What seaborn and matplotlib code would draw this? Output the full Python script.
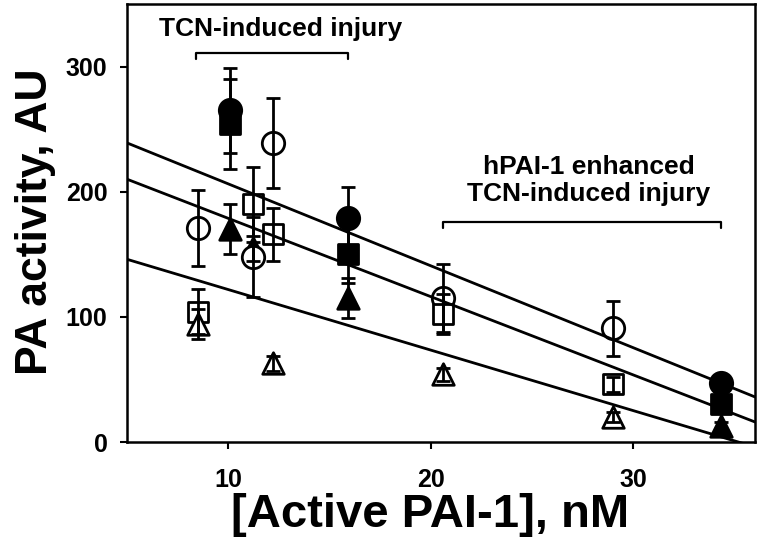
import matplotlib

matplotlib.use("Agg")
import matplotlib.pyplot as plt
import pandas as pd
import seaborn as sns

# [Active PAI-1] (nM), PA activity (AU) and error for each group
fc_x = [10.1, 15.9, 34.3]
fc_y = [265, 179, 47]
fc_err = [34, 25, 3]

fs_x = [10.1, 15.9, 34.3]
fs_y = [254, 150, 30]
fs_err = [36, 23, 3]

ft_x = [10.1, 11.2, 15.9, 34.3]
ft_y = [170, 155, 115, 13]
ft_err = [20, 10, 16, 3]

oc_x = [8.5, 11.2, 12.2, 20.6, 29.0]
oc_y = [171, 148, 239, 115, 91]
oc_err = [30, 32, 36, 27, 22]

os_x = [8.5, 11.2, 12.2, 20.6, 29.0]
os_y = [104, 190, 166, 102, 46]
os_err = [18, 30, 21, 16, 6]

ot_x = [8.5, 12.2, 20.6, 29.0]
ot_y = [94, 63, 54, 20]
ot_err = [12, 6, 5, 4]

# regression lines (endpoints)
fit_x = [5, 36]
fit_top = [239, 36]
fit_mid = [210, 16]
fit_low = [146, -4]

# annotation brackets
br1_x = [8.4, 15.9]
br1_y = 311
br2_x = [20.6, 34.3]
br2_y = 176

sns.set_style("ticks")
plt.rcParams["font.family"] = ["Liberation Sans", "DejaVu Sans"]
plt.rcParams["font.weight"] = "bold"
for key in ["text.color", "axes.labelcolor", "xtick.color", "ytick.color",
            "axes.edgecolor"]:
    plt.rcParams[key] = "black"

fig = plt.figure(figsize=(7.59, 5.47), dpi=100)
ax = fig.add_axes([127 / 759, 1 - 442 / 547, 628 / 759, 438 / 547])

series = [
    (fc_x, fc_y, fc_err, "o", "black", 260),
    (fs_x, fs_y, fs_err, "s", "black", 210),
    (ft_x, ft_y, ft_err, "^", "black", 240),
    (oc_x, oc_y, oc_err, "o", "white", 260),
    (os_x, os_y, os_err, "s", "white", 210),
    (ot_x, ot_y, ot_err, "^", "white", 240),
]

for xs, ys, errs, marker, face, size in series:
    df = pd.DataFrame({"x": xs, "y": ys})
    sns.scatterplot(
        data=df, x="x", y="y", marker=marker, s=size,
        color=face, edgecolor="black", linewidth=2.0, ax=ax, zorder=2,
    )
    ax.errorbar(
        xs, ys, yerr=errs, fmt="none", ecolor="black",
        elinewidth=2.0, capsize=5, capthick=2.0, zorder=3,
    )

for fit_y in [fit_top, fit_mid, fit_low]:
    sns.lineplot(x=fit_x, y=fit_y, color="black", linewidth=2.0, ax=ax, zorder=3)

# brackets
for bx, by in [(br1_x, br1_y), (br2_x, br2_y)]:
    ax.plot([bx[0], bx[0], bx[1], bx[1]], [by - 5, by, by, by - 5],
            color="black", linewidth=1.6, zorder=3)

ax.text(12.6, 330, "TCN-induced injury", ha="center", va="center",
        fontsize=19, fontweight="bold", color="black")
ax.text(27.8, 209, "hPAI-1 enhanced\nTCN-induced injury", ha="center",
        va="center", fontsize=19, fontweight="bold", color="black",
        linespacing=1.15)

ax.set_xlim(5, 36)
ax.set_ylim(0, 350)
ax.set_xticks([10, 20, 30])
ax.set_yticks([0, 100, 200, 300])
ax.tick_params(axis="both", direction="out", length=5, width=1.5,
               labelsize=18, colors="black")
ax.tick_params(axis="x", pad=14)
ax.tick_params(axis="y", pad=9)
for lab in ax.get_xticklabels() + ax.get_yticklabels():
    lab.set_fontweight("bold")
for sp in ax.spines.values():
    sp.set_visible(True)
    sp.set_linewidth(1.8)
    sp.set_color("black")

ax.set_xlabel("[Active PAI-1], nM", fontsize=34, fontweight="bold")
ax.set_ylabel("PA activity, AU", fontsize=32, fontweight="bold")
ax.xaxis.set_label_coords(0.482, -0.167)
ax.xaxis.label.set_va("center")
ax.yaxis.set_label_coords(-0.146, 0.502)
ax.yaxis.label.set_va("center")

if ax.get_legend() is not None:
    ax.get_legend().remove()

fig.savefig("out.png", dpi=100)
plt.close(fig)
